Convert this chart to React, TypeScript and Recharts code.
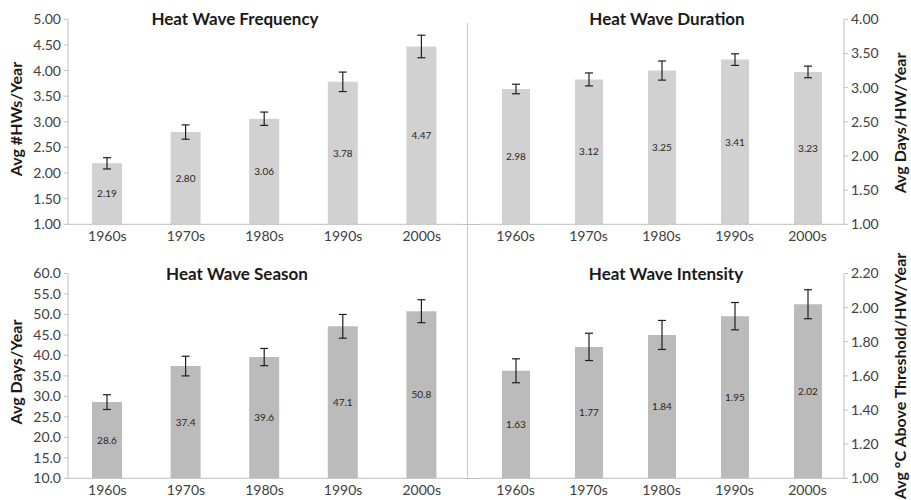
import { Bar, BarChart, ErrorBar, LabelList, XAxis, YAxis } from "recharts";

const DECADES = ["1960s", "1970s", "1980s", "1990s", "2000s"];

const FREQUENCY = [2.19, 2.8, 3.06, 3.78, 4.47];
const FREQUENCY_ERR = [0.11, 0.14, 0.13, 0.19, 0.22];
const FREQUENCY_TICKS = [1, 1.5, 2, 2.5, 3, 3.5, 4, 4.5, 5];

const DURATION = [2.98, 3.12, 3.25, 3.41, 3.23];
const DURATION_ERR = [0.07, 0.095, 0.14, 0.085, 0.085];
const DURATION_TICKS = [1, 1.5, 2, 2.5, 3, 3.5, 4];

const SEASON = [28.6, 37.4, 39.6, 47.1, 50.8];
const SEASON_ERR = [1.8, 2.4, 2.1, 2.9, 2.8];
const SEASON_TICKS = [10, 15, 20, 25, 30, 35, 40, 45, 50, 55, 60];

const INTENSITY = [1.63, 1.77, 1.84, 1.95, 2.02];
const INTENSITY_ERR = [0.07, 0.08, 0.085, 0.08, 0.085];
const INTENSITY_TICKS = [1, 1.2, 1.4, 1.6, 1.8, 2, 2.2];

// category boundaries, where the x axis gets its small tick marks
const BOUNDARIES = [0, 1, 2, 3, 4, 5];

const FONT = "Lato, 'Open Sans', sans-serif";
const AXIS = "#bfbfbf";
const TEXT = "#404040";
const LIGHT_BAR = "#d1d1d1";
const DARK_BAR = "#bbbbbb";

const toRows = (values: number[], errs: number[]) =>
  DECADES.map((decade, i) => ({ decade, value: values[i], err: errs[i], pos: i }));

function Panel({
  left,
  top,
  margin,
  side,
  values,
  errs,
  ticks,
  digits,
  color,
  barSize,
}: {
  left: number;
  top: number;
  margin: { top: number; right: number; bottom: number; left: number };
  side: "left" | "right";
  values: number[];
  errs: number[];
  ticks: number[];
  digits: number;
  color: string;
  barSize: number;
}) {
  const width = side === "left" ? 470 : 441;
  return (
    <div style={{ position: "absolute", left, top }}>
      <BarChart
        width={width}
        height={250}
        data={toRows(values, errs)}
        margin={margin}
        barCategoryGap={0}
      >
        <XAxis
          xAxisId="b-cat"
          dataKey="decade"
          height={19}
          axisLine={false}
          tickLine={false}
          tickSize={4}
          tick={{ fontSize: 14, fill: TEXT, fontFamily: FONT }}
        />
        <XAxis
          xAxisId="a-frame"
          dataKey="pos"
          type="number"
          domain={[0, 5]}
          ticks={BOUNDARIES}
          allowDataOverflow
          height={1}
          tick={false}
          tickSize={4}
          axisLine={{ stroke: AXIS }}
          tickLine={{ stroke: AXIS }}
        />
        <YAxis
          orientation={side}
          width={side === "left" ? 68 : 67}
          domain={[ticks[0], ticks[ticks.length - 1]]}
          ticks={ticks}
          interval={0}
          allowDataOverflow
          tickSize={4}
          tickMargin={3}
          axisLine={{ stroke: AXIS }}
          tickLine={{ stroke: AXIS }}
          tickFormatter={(v: number) => v.toFixed(digits)}
          tick={{ fontSize: 14, fill: TEXT, fontFamily: FONT }}
        />
        <Bar
          xAxisId="b-cat"
          dataKey="value"
          fill={color}
          barSize={barSize}
          isAnimationActive={false}
        >
          <ErrorBar
            dataKey="err"
            direction="y"
            width={4}
            stroke="#1f1f1f"
            strokeWidth={1.2}
          />
          <LabelList
            dataKey="value"
            position="center"
            formatter={(v: number) => Number(v).toFixed(digits)}
            style={{ fontSize: 10, fill: "#262626", fontFamily: FONT }}
          />
        </Bar>
      </BarChart>
    </div>
  );
}

function Title({ x, y, text }: { x: number; y: number; text: string }) {
  return (
    <div
      style={{
        position: "absolute",
        left: x,
        top: y,
        transform: "translate(-50%, -50%)",
        whiteSpace: "nowrap",
        fontFamily: FONT,
        fontWeight: 700,
        fontSize: 17,
        color: "#1a1a1a",
      }}
    >
      {text}
    </div>
  );
}

function AxisTitle({ x, y, text }: { x: number; y: number; text: string }) {
  return (
    <div
      style={{
        position: "absolute",
        left: x,
        top: y,
        transform: "translate(-50%, -50%) rotate(-90deg)",
        whiteSpace: "nowrap",
        fontFamily: FONT,
        fontWeight: 700,
        fontSize: 16,
        color: "#1a1a1a",
      }}
    >
      {text}
    </div>
  );
}

export default function App() {
  const topMargin = (right: number, left: number) => ({
    top: 19.3,
    right,
    bottom: 5.7,
    left,
  });
  const bottomMargin = (right: number, left: number) => ({
    top: 23.5,
    right,
    bottom: 1.7,
    left,
  });

  return (
    <div
      style={{
        position: "absolute",
        left: 0,
        top: 0,
        width: 911,
        height: 500,
        background: "#fff",
        overflow: "hidden",
      }}
    >
      <Panel
        left={0}
        top={0}
        margin={topMargin(9, 0)}
        side="left"
        values={FREQUENCY}
        errs={FREQUENCY_ERR}
        ticks={FREQUENCY_TICKS}
        digits={2}
        color={LIGHT_BAR}
        barSize={30}
      />
      <Panel
        left={470}
        top={0}
        margin={topMargin(0, 9)}
        side="right"
        values={DURATION}
        errs={DURATION_ERR}
        ticks={DURATION_TICKS}
        digits={2}
        color={LIGHT_BAR}
        barSize={28}
      />
      <Panel
        left={0}
        top={250}
        margin={bottomMargin(9, 0)}
        side="left"
        values={SEASON}
        errs={SEASON_ERR}
        ticks={SEASON_TICKS}
        digits={1}
        color={DARK_BAR}
        barSize={30}
      />
      <Panel
        left={470}
        top={250}
        margin={bottomMargin(0, 9)}
        side="right"
        values={INTENSITY}
        errs={INTENSITY_ERR}
        ticks={INTENSITY_TICKS}
        digits={2}
        color={DARK_BAR}
        barSize={28}
      />

      <svg
        width={911}
        height={500}
        style={{ position: "absolute", left: 0, top: 0, pointerEvents: "none" }}
      >
        <line x1={467.5} y1={23} x2={467.5} y2={478} stroke="#c8c8c8" />
        <line x1={461} y1={224.5} x2={479} y2={224.5} stroke={AXIS} />
        <line x1={461} y1={478.5} x2={479} y2={478.5} stroke={AXIS} />
      </svg>

      <Title x={235} y={18} text="Heat Wave Frequency" />
      <Title x={667} y={18} text="Heat Wave Duration" />
      <Title x={237} y={273} text="Heat Wave Season" />
      <Title x={666} y={273} text="Heat Wave Intensity" />

      <AxisTitle x={15} y={119} text="Avg #HWs/Year" />
      <AxisTitle x={899} y={123} text="Avg Days/HW/Year" />
      <AxisTitle x={15} y={372} text="Avg Days/Year" />
      <AxisTitle x={899} y={376} text="Avg °C Above Threshold/HW/Year" />
    </div>
  );
}
